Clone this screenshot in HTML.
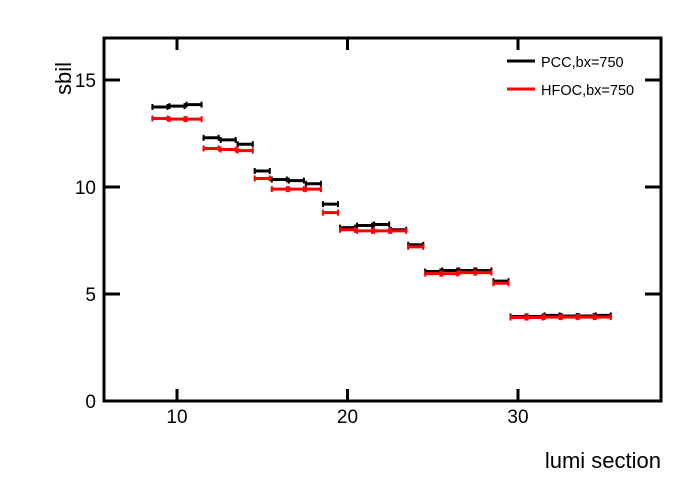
<!DOCTYPE html>
<html><head><meta charset="utf-8"><style>
body{margin:0;background:#fff}
svg text{font-family:"Liberation Sans",sans-serif}
</style></head><body>
<svg id="c" width="696" height="472">
<rect x="104" y="38" width="557" height="363" fill="none" stroke="#000" stroke-width="3"/>
<g id="axes"></g>
<g id="marks"></g>
<text x="71" y="62" font-size="22" transform="rotate(-90 71 62)" text-anchor="end">sbil</text>
<text x="661" y="468" font-size="22" text-anchor="end">lumi section</text>
<g>
<line x1="507" y1="61" x2="535" y2="61" stroke="#000" stroke-width="3"/>
<text x="541" y="67" font-size="14.5">PCC,bx=750</text>
<line x1="507" y1="89" x2="535" y2="89" stroke="#f00" stroke-width="3"/>
<text x="541" y="95" font-size="14.5">HFOC,bx=750</text>
</g>
</svg>
<script>
const lumi=[9,10,11,12,13,14,15,16,17,18,19,20,21,22,23,24,25,26,27,28,29,30,31,32,33,34,35];
const pcc=[13.74,13.78,13.85,12.3,12.2,12.0,10.75,10.35,10.3,10.15,9.2,8.1,8.2,8.25,8.0,7.3,6.05,6.1,6.1,6.1,5.6,3.95,3.95,4.0,3.97,3.97,4.0];
const hfoc=[13.2,13.17,13.17,11.8,11.75,11.7,10.4,9.9,9.9,9.9,8.8,8.0,7.95,7.95,7.95,7.2,5.95,5.95,6.0,6.0,5.5,3.9,3.9,3.92,3.92,3.92,3.92];
const xTicks=[10,20,30];
const yTicks=[0,5,10,15];
const X=v=>177+(v-10)*17.05;
const Y=v=>401-v*21.4;
const NS="http://www.w3.org/2000/svg";
function mk(t,a,p){const e=document.createElementNS(NS,t);for(const k in a)e.setAttribute(k,a[k]);p.appendChild(e);return e;}
const ax=document.getElementById('axes'),mg=document.getElementById('marks');
xTicks.forEach(v=>{
const l=mk('line',{x1:X(v),x2:X(v),y1:401,y2:389,stroke:'#000','stroke-width':3},ax);

const l2=mk('line',{x1:X(v),x2:X(v),y1:38,y2:50,stroke:'#000','stroke-width':3},ax);

const t=mk('text',{x:X(v),y:423,'font-size':19,'text-anchor':'middle'},ax);t.textContent=v;
});
yTicks.forEach(v=>{
const l=mk('line',{x1:104,x2:120,y1:Y(v),y2:Y(v),stroke:'#000','stroke-width':3},ax);

const l2=mk('line',{x1:661,x2:645,y1:Y(v),y2:Y(v),stroke:'#000','stroke-width':3},ax);

const t=mk('text',{x:96,y:Y(v)+7,'font-size':19,'text-anchor':'end'},ax);t.textContent=v;
});
function series(vals,col,name){lumi.forEach((c,i)=>{const g=mk('g',{},mg);

const y=Y(vals[i]),a=X(c-0.5),b=X(c+0.5);
mk('line',{x1:a,x2:b,y1:y,y2:y,stroke:col,'stroke-width':3},g);
mk('line',{x1:a+1,x2:a+1,y1:y-3,y2:y+3,stroke:col,'stroke-width':2},g);
mk('line',{x1:b-1,x2:b-1,y1:y-3,y2:y+3,stroke:col,'stroke-width':2},g);});}
series(pcc,'#000','pcc');
series(hfoc,'#f00','hfoc');
</script>
</body></html>
